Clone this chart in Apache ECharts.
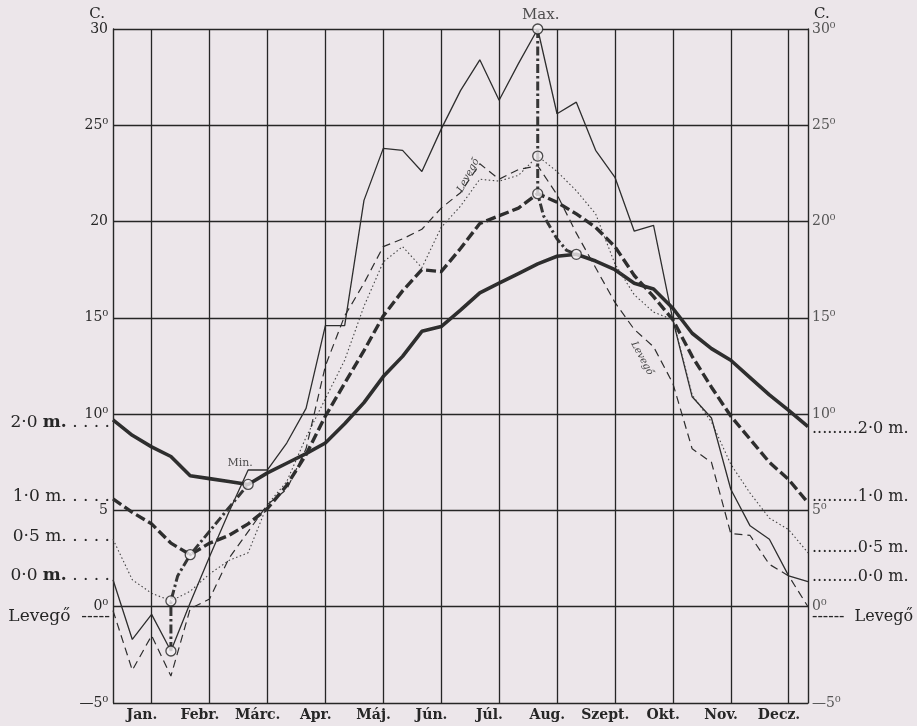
<!DOCTYPE html>
<html><head><meta charset="utf-8">
<script src="https://cdn.jsdelivr.net/npm/echarts@6/dist/echarts.min.js"></script>
<style>html,body{margin:0;padding:0;background:#ece6ea}#c{width:917px;height:726px}</style>
</head><body><div id="c"></div>
<script>
// --- data (x = decade index 0..36, y = °C) ---
const months = ['Jan.','Febr.','Márc.','Apr.','Máj.','Jún.','Júl.','Aug.','Szept.','Okt.','Nov.','Decz.'];
const yTicksLeft  = ['—5⁰','0⁰','5','10⁰','15⁰','20','25⁰','30'];
const yTicksRight = ['—5⁰','0⁰','5⁰','10⁰','15⁰','20⁰','25⁰','30⁰'];
const monthGridDecades = [2,5,8,11,14,17,20,23,26,29,32,35];

const levego = [-0.2,-3.3,-1.5,-3.6,-0.1,0.4,2.5,3.9,5.3,6.1,8.2,12.5,15.1,16.8,18.7,19.1,19.6,20.7,21.5,23.0,22.2,22.7,22.9,21.4,19.4,17.6,15.8,14.4,13.5,11.6,8.2,7.5,3.8,3.7,2.2,1.6,0.0];
const m00 = [1.4,-1.7,-0.4,-2.3,0.2,2.6,4.9,7.1,7.1,8.5,10.3,14.6,14.6,21.1,23.8,23.7,22.6,24.8,26.8,28.4,26.3,28.2,30.0,25.6,26.2,23.7,22.3,19.5,19.8,14.9,10.9,9.8,6.1,4.2,3.5,1.6,1.3];
const m05 = [3.5,1.4,0.7,0.3,0.8,1.7,2.4,2.8,5.3,6.5,8.8,10.8,12.8,15.6,17.9,18.7,17.6,19.7,20.8,22.2,22.1,22.4,23.4,22.6,21.6,20.4,17.8,16.2,15.3,14.9,11.0,9.6,7.4,5.9,4.6,4.0,2.8];
const m10 = [5.6,4.9,4.3,3.3,2.7,3.3,3.7,4.3,5.1,6.3,7.9,9.9,11.6,13.3,15.1,16.4,17.5,17.4,18.6,19.9,20.3,20.7,21.45,21.0,20.4,19.7,18.7,17.2,16.1,14.9,13.0,11.4,9.9,8.7,7.5,6.6,5.4];
const m20 = [9.7,8.9,8.3,7.8,6.8,6.65,6.5,6.35,6.95,7.45,7.95,8.5,9.5,10.6,11.95,13.0,14.3,14.55,15.4,16.3,16.8,17.3,17.8,18.2,18.3,17.95,17.5,16.8,16.5,15.5,14.2,13.4,12.8,11.9,11.0,10.2,9.35];

const minPhase = [[3,-2.3],[3,0.3],[3.35,1.6],[4,2.7],[7,6.35]];
const maxPhase = [[22,30],[22,23.4],[22,21.45],[22.3,20.3],[23,19.1],[23.5,18.5],[24,18.3]];
const minMarks = [[3,-2.3],[3,0.3],[4,2.7],[7,6.35]];
const maxMarks = [[22,30],[22,23.4],[22,21.45],[24,18.3]];

// --- chart ---
const INK = '#262626';
const FONT = 'DejaVu Serif';
const pts = arr => arr.map((v,i)=>[i,v]);
const rich = {d:{fontFamily:FONT, fontSize:17, color:INK}, b:{fontFamily:FONT, fontSize:17, color:INK, fontWeight:'bold'}};

function endLabels(arr, leftText, rightText, leftOff, rightOff) {
  const n = arr.length - 1;
  return {
    symbol: 'circle', symbolSize: 0, silent: true,
    data: [
      {coord:[0, arr[0]], label: {show:true, position:'left', distance:3, formatter:leftText, offset:[0,leftOff],
        color: INK, fontFamily: FONT, fontSize: 17, rich: rich}},
      {coord:[n, arr[n]], label: {show:true, position:'right', distance:4, formatter:rightText, offset:[0,rightOff],
        color: INK, fontFamily: FONT, fontSize: 16}}
    ]
  };
}

const chart = echarts.init(document.getElementById('c'), null, {renderer:'canvas'});
chart.setOption({
  backgroundColor: '#ece6ea',
  animation: false,
  grid: {left: 113, right: 109, top: 29, bottom: 23},
  xAxis: [
    {type:'value', min:0, max:36, show:true, axisLine:{show:false}, axisTick:{show:false}, axisLabel:{show:false}, splitLine:{show:false}},
    {type:'category', data: months, boundaryGap:true, position:'bottom', axisLine:{show:false}, axisTick:{show:false},
     axisLabel:{interval:0, color:INK, fontFamily:FONT, fontSize:14, fontWeight:'bold', margin:5}, splitLine:{show:false}}
  ],
  yAxis: [
    {type:'value', min:-5, max:30, interval:5, position:'left',
     name:'C.', nameLocation:'end', nameGap:6, nameTextStyle:{color:INK, fontFamily:FONT, fontSize:15, align:'right', padding:[0,8,0,0]},
     axisLine:{show:true, lineStyle:{color:INK, width:1.4}}, axisTick:{show:false},
     axisLabel:{color:INK, fontFamily:FONT, fontSize:14, margin:5, formatter:v=>yTicksLeft[Math.round((v+5)/5)]},
     splitLine:{show:true, lineStyle:{color:INK, width:1.3}}},
    {type:'value', min:-5, max:30, interval:5, position:'right',
     name:'C.', nameLocation:'end', nameGap:6, nameTextStyle:{color:INK, fontFamily:FONT, fontSize:15, align:'left', padding:[0,0,0,6]},
     axisLine:{show:true, lineStyle:{color:INK, width:1.4}}, axisTick:{show:false},
     axisLabel:{color:'#555', fontFamily:FONT, fontSize:14, margin:4, formatter:v=>yTicksRight[Math.round((v+5)/5)]},
     splitLine:{show:false}}
  ],
  series: [
    {type:'line', name:'grid', data:[], xAxisIndex:0, yAxisIndex:0, z:1,
     markLine:{silent:true, symbol:['none','none'], label:{show:false},
       lineStyle:{color:INK, width:1.3, type:'solid'},
       data: monthGridDecades.map(d=>({xAxis:d}))}},
    {type:'line', name:'2·0 m.', data:pts(m20), showSymbol:false, z:3,
     lineStyle:{color:'#2e2e2e', width:3.6, type:'solid'},
     markPoint: endLabels(m20, '{d|2·0} {b|m.} . . . .', '.........2·0 m.', 3, 2)},
    {type:'line', name:'1·0 m.', data:pts(m10), showSymbol:false, z:3,
     lineStyle:{color:'#2e2e2e', width:3.4, type:[10,4]},
     markPoint: endLabels(m10, '1·0 m. . . . .', '.........1·0 m.', -2, -6)},
    {type:'line', name:'0·5 m.', data:pts(m05), showSymbol:false, z:3,
     lineStyle:{color:'#444', width:1.1, type:[1.5,2.5]},
     markPoint: endLabels(m05, '0·5 m. . . . .', '.........0·5 m.', -3, -5)},
    {type:'line', name:'0·0 m.', data:pts(m00), showSymbol:false, z:3,
     lineStyle:{color:'#2e2e2e', width:1.3, type:'solid'},
     markPoint: endLabels(m00, '{d|0·0} {b|m.} . . . .', '.........0·0 m.', -4, -5)},
    {type:'line', name:'Levegő', data:pts(levego), showSymbol:false, z:3,
     lineStyle:{color:'#2e2e2e', width:1.2, type:[8,5]},
     markPoint: (function(){
        const mp = endLabels(levego, 'Levegő  -----', '------  Levegő', 6, 10);
        mp.data.push({coord:[18.4,22.4], label:{show:true, position:'inside', formatter:'Levegő', rotate:62, color:'#444', fontFamily:FONT, fontStyle:'italic', fontSize:10}});
        mp.data.push({coord:[27.4,12.9], label:{show:true, position:'inside', formatter:'Levegő', rotate:-62, color:'#444', fontFamily:FONT, fontStyle:'italic', fontSize:10}});
        return mp;
     })()},
    {type:'line', name:'minPhase', data:minPhase, showSymbol:false, z:4,
     lineStyle:{color:'#363636', width:3, type:[9,3,2.5,3]}},
    {type:'line', name:'maxPhase', data:maxPhase, showSymbol:false, z:4,
     lineStyle:{color:'#363636', width:3, type:[9,3,2.5,3]}},
    {type:'scatter', name:'minMarks', z:5, symbol:'circle', symbolSize:10,
     itemStyle:{color:'#f4f0f2', borderColor:'#222', borderWidth:1.3},
     data: minMarks.map((p,i)=> i===minMarks.length-1
        ? {value:p, label:{show:true, position:'top', distance:10, offset:[-8,0], formatter:'Min.', color:INK, fontFamily:FONT, fontSize:11}}
        : {value:p})},
    {type:'scatter', name:'maxMarks', z:5, symbol:'circle', symbolSize:10,
     itemStyle:{color:'#f4f0f2', borderColor:'#222', borderWidth:1.3},
     data: maxMarks.map((p,i)=> i===0
        ? {value:p, label:{show:true, position:'top', distance:1, offset:[3,0], formatter:'Max.', color:INK, fontFamily:FONT, fontSize:15}}
        : {value:p})}
  ]
});
</script></body></html>
